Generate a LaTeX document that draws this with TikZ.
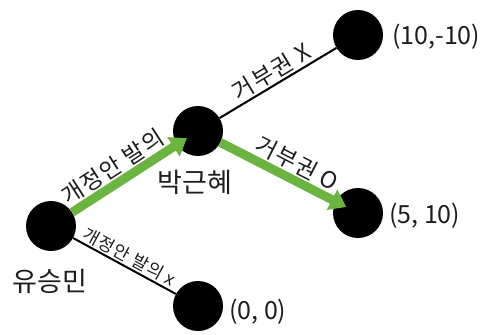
\documentclass[tikz,border=0pt]{standalone}
\usepackage{fontspec}
\setmainfont{Noto Sans CJK KR}
\usetikzlibrary{arrows.meta}
\definecolor{grn}{RGB}{108,180,64}
\definecolor{txt}{RGB}{30,30,30}
\begin{document}
\begin{tikzpicture}[x=1pt,y=-1pt,
  dot/.style={circle,fill=black,minimum size=50pt,inner sep=0pt},
  thinedge/.style={draw=black,line width=2pt},
  grnedge/.style={draw=grn,line width=9pt,-{Triangle[length=16pt,width=22pt]}},
  elab/.style={sloped,above,inner sep=1.5pt,text=txt,font=\fontsize{23}{23}\selectfont\addfontfeatures{LetterSpace=6}},
  elabsmall/.style={sloped,above,inner sep=1.5pt,text=txt,font=\fontsize{17.5}{17.5}\selectfont\addfontfeatures{LetterSpace=6}},
  nlab/.style={text=txt,inner sep=0pt,font=\fontsize{27}{27}\selectfont},
  clab/.style={text=txt,inner sep=0pt,anchor=west,font=\fontsize{25}{25}\selectfont}]
\useasboundingbox (0,0) rectangle (486,334);
\node[dot] (yu) at (51,226) {};
\node[dot] (park) at (198,131) {};
\node[dot] (a) at (358,35) {};
\node[dot] (b) at (358,213) {};
\node[dot] (c) at (198,306) {};
\draw[thinedge] (park) -- node[elab] {거부권 X} (a);
\draw[thinedge] (yu) -- node[elabsmall] {개정안 발의 x} (c);
\draw[grnedge,shorten >=-12pt] (yu) -- node[elab,pos=0.47] {개정안 발의} (park);
\draw[grnedge,shorten >=-12pt] (park) -- node[elab,pos=0.6] {거부권 O} (b);
\node[nlab] (lpark) at (195,182) {박근혜};
\node[nlab] (lyu) at (50,281) {유승민};
\node[clab] (la) at (392,37) {(10,-10)};
\node[clab] (lb) at (389,216) {(5, 10)};
\node[clab] (lc) at (229,312) {(0, 0)};
\end{tikzpicture}
\end{document}
